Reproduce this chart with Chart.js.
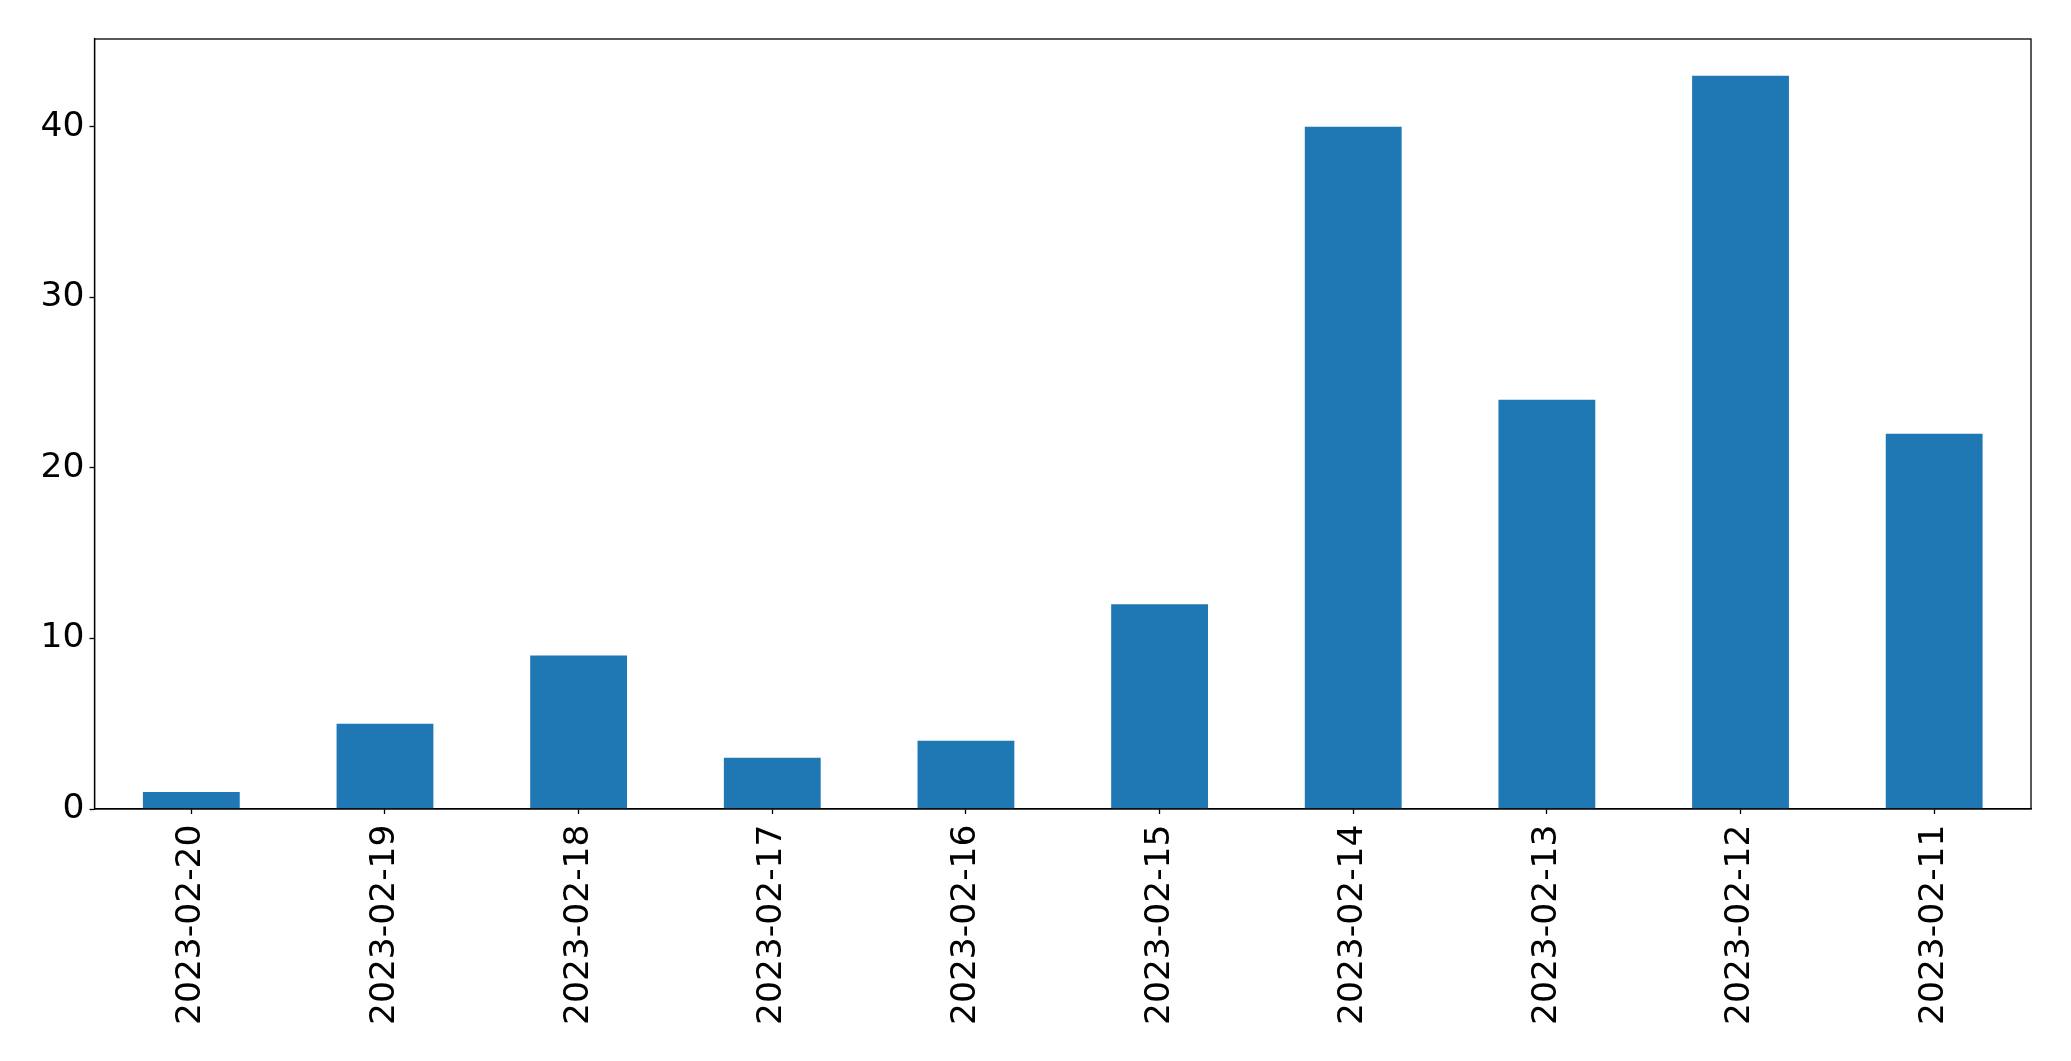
<!DOCTYPE html>
<html>
<head>
<meta charset="utf-8">
<script src="https://cdn.jsdelivr.net/npm/chart.js@4"></script>
<style>
html,body{margin:0;padding:0;background:#fff;}
#wrap{width:2071px;height:1061px;position:relative;}
</style>
</head>
<body>
<div id="wrap"><canvas id="c" width="2071" height="1061"></canvas></div>
<script>
const categories = ["2023-02-20","2023-02-19","2023-02-18","2023-02-17","2023-02-16","2023-02-15","2023-02-14","2023-02-13","2023-02-12","2023-02-11"];
const values = [1, 5, 9, 3, 4, 12, 40, 24, 43, 22];
const yTicks = [0, 10, 20, 30, 40];

const frame = {
  id: 'frame',
  afterDatasetsDraw(chart) {
    const a = chart.chartArea, ctx = chart.ctx;
    ctx.save();
    ctx.strokeStyle = '#000';
    ctx.lineWidth = 1.3;
    ctx.strokeRect(a.left, a.top, a.right - a.left, a.bottom - a.top);
    ctx.restore();
  }
};

new Chart(document.getElementById('c'), {
  type: 'bar',
  data: {
    labels: categories,
    datasets: [{ data: values, backgroundColor: '#1f77b4', borderWidth: 0,
      categoryPercentage: 1, barPercentage: 0.5 }]
  },
  options: {
    responsive: false,
    animation: false,
    layout: { padding: { left: 0, right: 40, top: 39, bottom: 0 } },
    plugins: { legend: { display: false }, tooltip: { enabled: false } },
    scales: {
      x: {
        grid: { display: true, offset: false, drawOnChartArea: false, drawTicks: true, tickLength: 5, tickColor: '#000', tickWidth: 1.3 },
        border: { display: true, color: '#000', width: 1.3 },
        ticks: { color: '#000', font: { family: 'DejaVu Sans', size: 34.5 }, minRotation: 90, maxRotation: 90, padding: 10.5, autoSkip: false },
        afterFit(s) { s.height = 1061 - 809; }
      },
      y: {
        min: 0, max: 45.15,
        grid: { display: true, drawOnChartArea: false, drawTicks: true, tickLength: 5, tickColor: '#000', tickWidth: 1.3 },
        border: { display: true, color: '#000', width: 1.3 },
        ticks: { color: '#000', font: { family: 'DejaVu Sans', size: 34.5 }, padding: 5, stepSize: 10, includeBounds: false },
        afterBuildTicks(s) { s.ticks = yTicks.map(v => ({ value: v })); },
        afterFit(s) { s.width = 94.5; }
      }
    }
  },
  plugins: [frame]
});
</script>
</body>
</html>
